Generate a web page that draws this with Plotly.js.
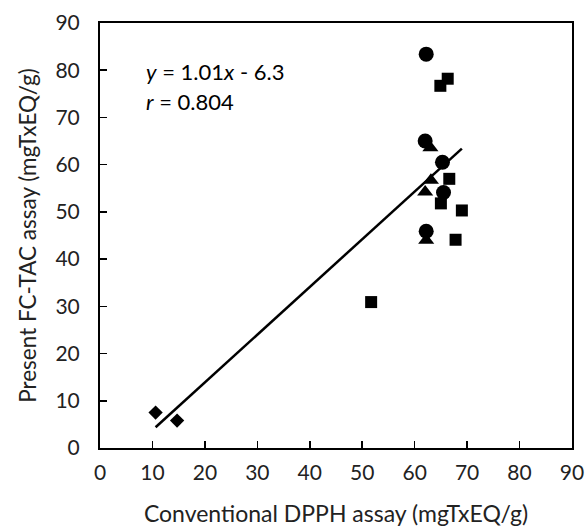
<!DOCTYPE html>
<html>
<head>
<meta charset="utf-8">
<script src="https://cdn.plot.ly/plotly-3.0.1.min.js"></script>
<style>html,body{margin:0;padding:0;background:#fff;}#chart{width:587px;height:531px;}</style>
</head>
<body>
<div id="chart"></div>
<script>
// Data
const circleX = [62.2, 62.0, 65.3, 65.5, 62.2];
const circleY = [83.4, 65.0, 60.5, 54.1, 45.9];
const squareX = [66.3, 64.9, 66.6, 65.0, 69.0, 67.8, 51.7];
const squareY = [78.2, 76.7, 57.0, 51.8, 50.3, 44.1, 30.9];
const triangleX = [63.0, 63.1, 62.0, 62.2];
const triangleY = [63.6, 56.7, 54.2, 44.0];
const diamondX = [10.6, 14.7];
const diamondY = [7.5, 5.8];
const fitX = [10.6, 69.0];
const fitY = [4.4, 63.4];
const tickVals = [0, 10, 20, 30, 40, 50, 60, 70, 80, 90];

const font = "Lato, 'Open Sans', sans-serif";
const mk = (sym, size) => ({symbol: sym, size: size, color: '#000', line: {width: 0}});

const traces = [
  {x: fitX, y: fitY, mode: 'lines', line: {color: '#000', width: 2.5}, hoverinfo: 'skip'},
  {x: triangleX, y: triangleY, mode: 'markers', marker: mk('triangle-up', 14)},
  {x: squareX, y: squareY, mode: 'markers', marker: mk('square', 12)},
  {x: circleX, y: circleY, mode: 'markers', marker: mk('circle', 15)},
  {x: diamondX, y: diamondY, mode: 'markers', marker: mk('diamond', 11)}
];

const axisCommon = {
  range: [0, 90], tickvals: tickVals, ticks: 'inside', ticklen: 7, tickwidth: 1.5,
  tickcolor: '#000', showline: true, linecolor: '#000', linewidth: 2, mirror: true,
  showgrid: false, zeroline: false, tickfont: {family: font, size: 21, color: '#222'}
};

const layout = {
  width: 587, height: 531,
  margin: {l: 100, r: 15, t: 23, b: 83},
  paper_bgcolor: '#fff', plot_bgcolor: '#fff',
  showlegend: false,
  font: {family: font, color: '#222'},
  xaxis: Object.assign({}, axisCommon, {
    ticklabelstandoff: 5,
    title: {text: 'Conventional DPPH assay (mgTxEQ/g)', font: {family: font, size: 23, color: '#222'}, standoff: 23}
  }),
  yaxis: Object.assign({}, axisCommon, {
    ticklabelstandoff: 14,
    title: {text: 'Present FC-TAC assay (mgTxEQ/g)', font: {family: font, size: 22.5, color: '#222'}, standoff: 13}
  }),
  annotations: [
    {xref: 'paper', yref: 'paper', x: 0.093, y: 0.885, xanchor: 'left', yanchor: 'middle', showarrow: false,
     text: '<i>y</i> = 1.01<i>x</i> - 6.3', font: {family: font, size: 22, color: '#000'}},
    {xref: 'paper', yref: 'paper', x: 0.093, y: 0.815, xanchor: 'left', yanchor: 'middle', showarrow: false,
     text: '<i>r</i> = 0.804', font: {family: font, size: 22, color: '#000'}}
  ]
};

Plotly.newPlot('chart', traces, layout, {displayModeBar: false, staticPlot: true});
</script>
</body>
</html>
